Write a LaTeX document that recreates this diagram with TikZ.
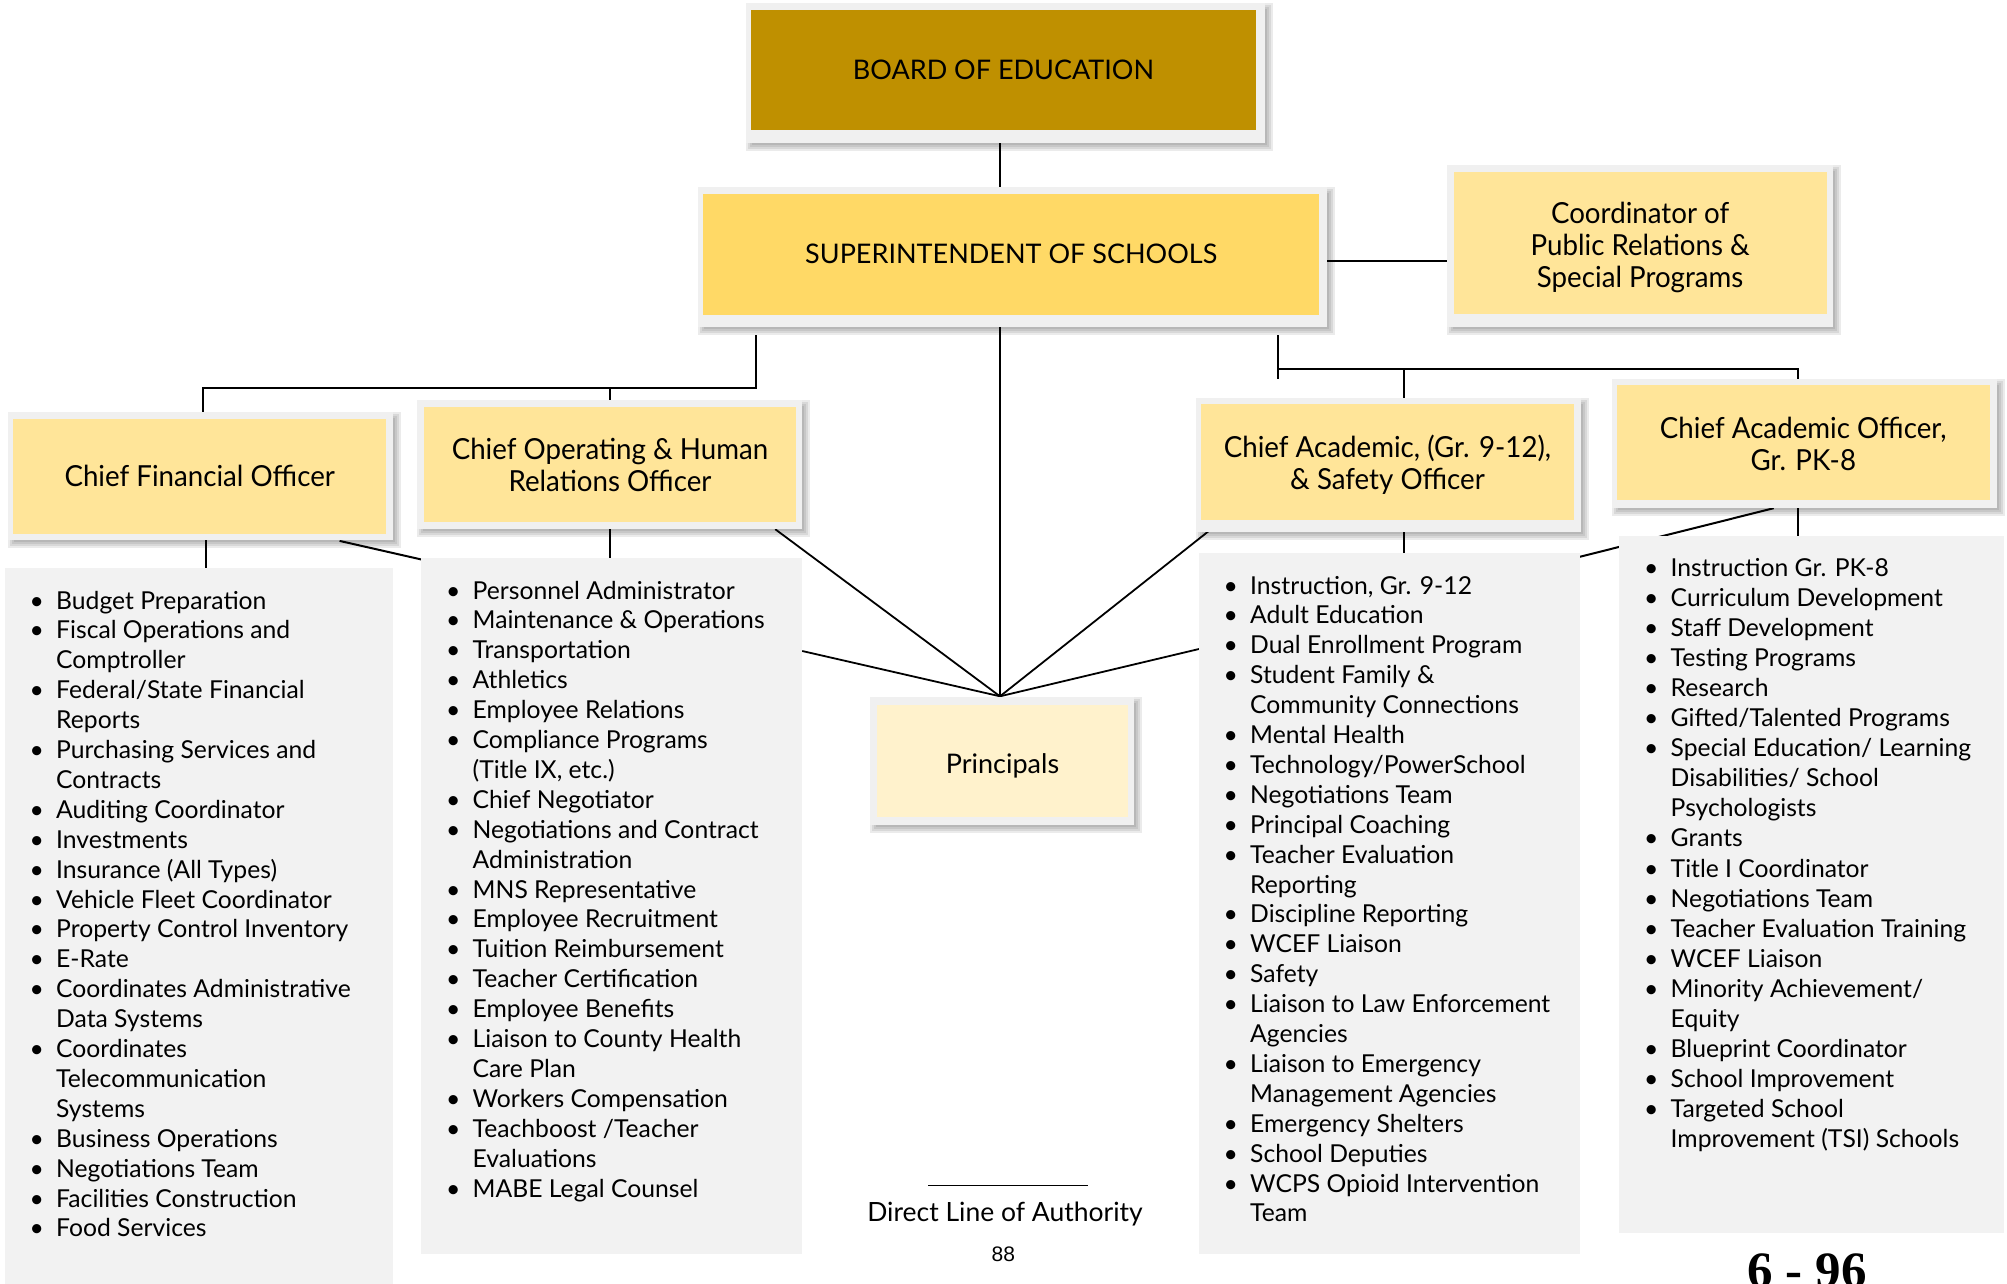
\documentclass[tikz,border=0pt]{standalone}
\usepackage{fontspec}
\setmainfont{Lato}
\newfontfamily\headfont[FakeStretch=0.955]{Lato}
\newfontfamily\capfont{Lato}
\newfontfamily\numfont{Liberation Sans}
\newfontfamily\pgfont{Liberation Serif}
\usetikzlibrary{calc}
\pgfdeclarelayer{back}
\pgfdeclarelayer{bg}
\pgfdeclarelayer{shadow}
\pgfdeclarelayer{frame}
\pgfsetlayers{back,bg,shadow,frame,main}
\definecolor{boardc}{HTML}{BF9000}
\definecolor{superc}{HTML}{FFD966}
\definecolor{boxc}{HTML}{FFE599}
\definecolor{princ}{HTML}{FFF2CC}
\definecolor{framec}{HTML}{F0F0F0}
\definecolor{listc}{HTML}{F2F2F2}
\newcommand\itm[1]{\makebox[39pt]{\textbullet}&#1\\}
\newcommand\cnt[1]{&#1\\}
\newcommand\decor[5]{%
  \begin{pgfonlayer}{frame}
    \fill[framec] ($(#1.north west)+(-#2,-#3)$) rectangle ($(#1.south east)+(#4,#5)$);
  \end{pgfonlayer}
  \begin{pgfonlayer}{shadow}
    \foreach \e in {0,2,4,6}{
      \fill[black,opacity=.08] ($(#1.north west)+(-#2+6-\e,-#3+6-\e)$) rectangle ($(#1.south east)+(#4+2+\e,#5+2+\e)$);}
  \end{pgfonlayer}}
\tikzset{
  hbox/.style={inner sep=0pt, align=center, text=black,
    font=\headfont\fontsize{29}{32}\selectfont},
  capbox/.style={hbox, font=\capfont\fontsize{27}{32}\selectfont},
  htext/.style={inner sep=0pt, align=center, text=black,
    font=\headfont\fontsize{29}{32}\selectfont},
  listbox/.style={fill=listc, inner sep=0pt, anchor=north west},
  listtext/.style={inner sep=0pt, anchor=base west, align=left,
    font=\fontsize{24.7}{29.9}\selectfont},
  conn/.style={line width=2pt, black},
  pconn/.style={line width=1.8pt, black}
}
\begin{document}
\begin{tikzpicture}[x=1pt,y=-1pt]
\useasboundingbox (0,0) rectangle (2007,1284);
\begin{pgfonlayer}{back}
  \fill[white] (0,0) rectangle (2007,1284);
\end{pgfonlayer}

% role boxes
\node[capbox, fill=boardc, minimum width=505pt, minimum height=120pt] (board) at (1003.5,70) {BOARD OF EDUCATION};
\node[capbox, fill=superc, minimum width=616.4pt, minimum height=120.5pt] (super) at (1011.2,254.25) {SUPERINTENDENT OF SCHOOLS};
\node[hbox, fill=boxc, minimum width=372.9pt, minimum height=142pt] (coord) at (1640.15,242.8) {};
\node[htext] (coordtext) at ([yshift=-5pt]coord.center) {Coordinator of\\Public Relations \&\\Special Programs};
\node[hbox, fill=boxc, minimum width=372.6pt, minimum height=114.9pt] (cfo) at (199.7,476.05) {Chief Financial Officer};
\node[hbox, fill=boxc, minimum width=372pt, minimum height=114.8pt] (coo) at (610,464.2) {};
\node[htext] (cootext) at ([yshift=-1pt]coo.center) {Chief Operating \& Human\\Relations Officer};
\node[hbox, fill=boxc, minimum width=373pt, minimum height=115.6pt] (n912) at (1387.5,461.8) {};
\node[htext] (n912text) at ([yshift=-2.5pt]n912.center) {Chief Academic, (Gr. 9-12),\\\& Safety Officer};
\node[hbox, fill=boxc, minimum width=372.9pt, minimum height=115pt] (pk8) at (1803.25,442.5) {};
\node[htext] (pk8text) at ([yshift=-1pt]pk8.center) {Chief Academic Officer,\\Gr. PK-8};
\node[hbox, fill=princ, minimum width=251.6pt, minimum height=112.9pt] (principals) at (1002.5,760.95) {};
\node[inner sep=0pt, font=\fontsize{27}{32}\selectfont] (princtext) at ([yshift=-5pt]principals.center) {Principals};

\decor{board}{5}{7}{9}{13}
\decor{super}{5}{6.5}{7.6}{12.5}
\decor{coord}{6.4}{6.5}{6.4}{13.2}
\decor{cfo}{5.7}{6.6}{6.5}{6}
\decor{coo}{6.5}{6.8}{6}{7.4}
\decor{n912}{5}{6}{7}{12.4}
\decor{pk8}{5.1}{6}{7}{8}
\decor{principals}{6.7}{7}{5.7}{7.4}

% list boxes
\node[listbox, minimum width=387.3pt, minimum height=730pt] (cfol) at (5,567.5) {};
\node[listbox, minimum width=380.8pt, minimum height=696pt] (coolist) at (421,558) {};
\node[listbox, minimum width=380.3pt, minimum height=700.3pt] (l912) at (1199,553) {};
\node[listbox, minimum width=385.5pt, minimum height=696.7pt] (lpk8) at (1618.3,535.6) {};

\node[listtext] (cfot) at (17,609) {\begin{tabular}[t]{@{}l@{}l@{}}
\itm{Budget Preparation}
\itm{Fiscal Operations and}\cnt{Comptroller}
\itm{Federal/State Financial}\cnt{Reports}
\itm{Purchasing Services and}\cnt{Contracts}
\itm{Auditing Coordinator}
\itm{Investments}
\itm{Insurance (All Types)}
\itm{Vehicle Fleet Coordinator}
\itm{Property Control Inventory}
\itm{E-Rate}
\itm{Coordinates Administrative}\cnt{Data Systems}
\itm{Coordinates}\cnt{Telecommunication}\cnt{Systems}
\itm{Business Operations}
\itm{Negotiations Team}
\itm{Facilities Construction}
\itm{Food Services}
\end{tabular}};

\node[listtext] (coot) at (433.5,599) {\begin{tabular}[t]{@{}l@{}l@{}}
\itm{Personnel Administrator}
\itm{Maintenance \& Operations}
\itm{Transportation}
\itm{Athletics}
\itm{Employee Relations}
\itm{Compliance Programs}\cnt{(Title IX, etc.)}
\itm{Chief Negotiator}
\itm{Negotiations and Contract}\cnt{Administration}
\itm{MNS Representative}
\itm{Employee Recruitment}
\itm{Tuition Reimbursement}
\itm{Teacher Certification}
\itm{Employee Benefits}
\itm{Liaison to County Health}\cnt{Care Plan}
\itm{Workers Compensation}
\itm{Teachboost /Teacher}\cnt{Evaluations}
\itm{MABE Legal Counsel}
\end{tabular}};

\node[listtext] (t912) at (1211,594) {\begin{tabular}[t]{@{}l@{}l@{}}
\itm{Instruction, Gr. 9-12}
\itm{Adult Education}
\itm{Dual Enrollment Program}
\itm{Student Family \&}\cnt{Community Connections}
\itm{Mental Health}
\itm{Technology/PowerSchool}
\itm{Negotiations Team}
\itm{Principal Coaching}
\itm{Teacher Evaluation}\cnt{Reporting}
\itm{Discipline Reporting}
\itm{WCEF Liaison}
\itm{Safety}
\itm{Liaison to Law Enforcement}\cnt{Agencies}
\itm{Liaison to Emergency}\cnt{Management Agencies}
\itm{Emergency Shelters}
\itm{School Deputies}
\itm{WCPS Opioid Intervention}\cnt{Team}
\end{tabular}};

\node[listtext, font=\fontsize{24.7}{30.1}\selectfont] (tpk8) at (1631.5,576) {\begin{tabular}[t]{@{}l@{}l@{}}
\itm{Instruction Gr. PK-8}
\itm{Curriculum Development}
\itm{Staff Development}
\itm{Testing Programs}
\itm{Research}
\itm{Gifted/Talented Programs}
\itm{Special Education/ Learning}\cnt{Disabilities/ School}\cnt{Psychologists}
\itm{Grants}
\itm{Title I Coordinator}
\itm{Negotiations Team}
\itm{Teacher Evaluation Training}
\itm{WCEF Liaison}
\itm{Minority Achievement/}\cnt{Equity}
\itm{Blueprint Coordinator}
\itm{School Improvement}
\itm{Targeted School}\cnt{Improvement (TSI) Schools}
\end{tabular}};

% legend and page marks
\node[inner sep=0pt, font=\fontsize{26.5}{30}\selectfont] (legend) at (1005,1214) {Direct Line of Authority};
\node[inner sep=0pt, font=\numfont\fontsize{21}{24}\selectfont] (pgnum) at (1003.3,1254) {88};
\node[inner sep=0pt, anchor=base, font=\pgfont\bfseries\fontsize{51}{56}\selectfont] (pageref) at (1807,1287) {6 - 96};
\draw[line width=1.3pt] ([xshift=-77pt,yshift=28.6pt]legend.center) -- ([xshift=83pt,yshift=28.6pt]legend.center);

% connectors
\coordinate (hub) at ([xshift=-2.5pt,yshift=8pt]principals.north);
\coordinate (lb) at (755.5,335);
\coordinate (lbh) at (755.5,387.6);
\coordinate (rb) at (1277.8,335);
\coordinate (rbh) at (1277.8,368.5);
\coordinate (rbe) at (1277.8,379);
\coordinate (n912top) at ([xshift=16.3pt]n912.north);
\begin{pgfonlayer}{bg}
  \draw[conn] (board.south -| hub) -- (super.north -| hub);
  \draw[conn] ([yshift=-7pt]super.east) -- ([yshift=-7pt]super.east -| coord.west);
  \draw[conn] (lb) -- (lbh) -| ([xshift=3.3pt]cfo.north);
  \draw[conn] (lbh -| coo.north) -- (coo.north);
  \draw[conn] (rb) -- (rbe);
  \draw[conn] (rbh) -| ([xshift=-5.5pt]pk8.north);
  \draw[conn] (rbh -| n912top) -- (n912top);
  \draw[conn] ([xshift=5.8pt]cfo.south) -- ([xshift=5.8pt]cfo.south |- cfol.north);
  \draw[conn] (coo.south) -- (coo.south |- coolist.north);
  \draw[conn] ([xshift=16.3pt]n912.south) -- ([xshift=16.3pt]n912.south |- l912.north);
  \draw[conn] ([xshift=-5.5pt]pk8.south) -- ([xshift=-5.5pt]pk8.south |- lpk8.north);
  \draw[conn] ($(cfo.south east)+(-46.6,7.2)$) -- ($(coolist.north west)+(0,1.4)$);
  \draw[conn] ($(pk8.south east)+(-216.2,8)$) -- ($(l912.north east)+(0,3.8)$);
  \draw[pconn] (super.south -| hub) -- (hub);
  \draw[pconn] ($(coo.south east)+(-21,7.4)$) -- (hub);
  \draw[pconn] ($(coolist.north east)+(0,93)$) -- (hub);
  \draw[pconn] ($(n912.south west)+(12.8,7.4)$) -- (hub);
  \draw[pconn] ($(l912.north west)+(0,96)$) -- (hub);
\end{pgfonlayer}
\end{tikzpicture}
\end{document}
